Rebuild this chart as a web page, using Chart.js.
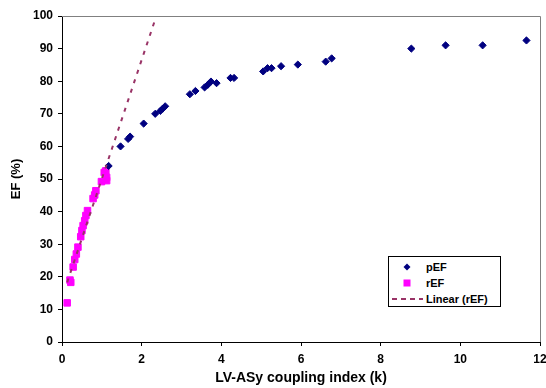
<!DOCTYPE html>
<html lang="en">
<head>
    <meta charset="UTF-8">
    <title>EF vs LV-ASy coupling index</title>
    <style>
        * {
            margin: 0;
            padding: 0;
            box-sizing: border-box;
        }

        body {
            background-color: #fff;
            font-family: Arial, "Liberation Sans", sans-serif;
        }

        .wrap {
            position: relative;
            width: 546px;
            height: 388px;
        }

        .legend {
            position: absolute;
            left: 388px;
            top: 256px;
            width: 113px;
            height: 51px;
            border: 1px solid #000;
            background-color: #fff;
            font-size: 11px;
            font-weight: bold;
            color: #000;
        }

        .legend .row {
            position: absolute;
            left: 0;
            height: 14px;
            line-height: 14px;
        }

        .legend .label {
            position: absolute;
            left: 37px;
            white-space: nowrap;
        }

        .legend svg {
            position: absolute;
            left: 0;
            top: 0;
        }
    </style>
</head>
<body>
    <div class="wrap">
        <canvas id="efChart" width="546" height="388"></canvas>
        <div class="legend">
            <div class="row" style="top: 3px;">
                <svg width="36" height="14"><path d="M18 3.5 L21.5 7 L18 10.5 L14.5 7 Z" fill="#000080"/></svg>
                <span class="label">pEF</span>
            </div>
            <div class="row" style="top: 19px;">
                <svg width="36" height="14"><rect x="14.5" y="3.5" width="7" height="7" fill="#ff00ff"/></svg>
                <span class="label">rEF</span>
            </div>
            <div class="row" style="top: 35px;">
                <svg width="36" height="14"><line x1="3" y1="7" x2="34" y2="7" stroke="#993366" stroke-width="2" stroke-dasharray="5,4"/></svg>
                <span class="label">Linear (rEF)</span>
            </div>
        </div>
    </div>

    <script src="https://cdn.jsdelivr.net/npm/chart.js"></script>
    <script>
        // values
        const pefK = [1.17, 1.47, 1.66, 1.71, 2.05, 2.34, 2.47, 2.53, 2.59, 3.21, 3.35, 3.58, 3.66, 3.74,
                      3.88, 4.23, 4.32, 5.05, 5.16, 5.26, 5.50, 5.92, 6.62, 6.77, 8.77, 9.63, 10.56, 11.66];
        const pefEF = [54, 60, 62.3, 63, 67, 70, 70.9, 71.6, 72.3, 76, 77, 78.1, 78.9, 79.9,
                       79.4, 81, 81, 83, 84, 84, 84.6, 85.1, 86, 87, 90, 91, 91, 92.5];

        const refK = [0.13, 0.20, 0.22, 0.28, 0.32, 0.36, 0.40, 0.47, 0.50, 0.53, 0.57, 0.60, 0.64,
                      0.78, 0.82, 0.85, 0.99, 1.12, 1.12, 1.06, 1.10];
        const refEF = [12, 19, 18.3, 23, 25.3, 27, 29.1, 32.3, 34.2, 35.7, 37.2, 38.8, 40.3,
                       44, 45.1, 46.4, 49.2, 49.5, 50.5, 52, 52.5];

        // Excel trendline runs forward to about k = 2.33
        const trendEndK = 2.33;

        const xTicks = [0, 2, 4, 6, 8, 10, 12];
        const yTicks = [0, 10, 20, 30, 40, 50, 60, 70, 80, 90, 100];

        function toPoints(xs, ys) {
            return xs.map((x, i) => ({ x: x, y: ys[i] }));
        }

        // least squares fit on rEF
        function linearFit(xs, ys) {
            const n = xs.length;
            const mx = xs.reduce((a, b) => a + b, 0) / n;
            const my = ys.reduce((a, b) => a + b, 0) / n;
            let sxy = 0, sxx = 0;
            for (let i = 0; i < n; i++) {
                sxy += (xs[i] - mx) * (ys[i] - my);
                sxx += (xs[i] - mx) * (xs[i] - mx);
            }
            const slope = sxy / sxx;
            return { slope: slope, intercept: my - slope * mx };
        }

        const fit = linearFit(refK, refEF);
        const trendStart = Math.min(...refK);
        const trendPoints = [trendStart, trendEndK].map(k => ({ x: k, y: fit.intercept + fit.slope * k }));

        // gray top/right edge of the plot area
        const plotFrame = {
            id: 'plotFrame',
            beforeDatasetsDraw(chart) {
                const { ctx, chartArea } = chart;
                ctx.save();
                ctx.strokeStyle = '#808080';
                ctx.lineWidth = 1;
                ctx.beginPath();
                ctx.moveTo(chartArea.left, chartArea.top + 0.5);
                ctx.lineTo(chartArea.right + 0.5, chartArea.top + 0.5);
                ctx.lineTo(chartArea.right + 0.5, chartArea.bottom);
                ctx.stroke();
                ctx.restore();
            }
        };

        const tickFont = { family: 'Arial, "Liberation Sans", sans-serif', size: 12, weight: 'bold' };
        const xTitleFont = { family: 'Arial, "Liberation Sans", sans-serif', size: 14, weight: 'bold' };
        const yTitleFont = { family: 'Arial, "Liberation Sans", sans-serif', size: 13, weight: 'bold' };

        new Chart(document.getElementById('efChart'), {
            type: 'scatter',
            data: {
                datasets: [
                    {
                        label: 'Linear (rEF)',
                        type: 'line',
                        data: trendPoints,
                        borderColor: '#993366',
                        borderWidth: 2,
                        borderDash: [4, 6],
                        pointRadius: 0,
                        fill: false,
                        order: 0
                    },
                    {
                        label: 'pEF',
                        data: toPoints(pefK, pefEF),
                        pointStyle: 'rectRot',
                        pointRadius: 3.6,
                        backgroundColor: '#000080',
                        borderColor: '#000080',
                        borderWidth: 1,
                        order: 1
                    },
                    {
                        label: 'rEF',
                        data: toPoints(refK, refEF),
                        pointStyle: 'rect',
                        pointRadius: 4.6,
                        backgroundColor: '#ff00ff',
                        borderColor: '#ff00ff',
                        borderWidth: 1,
                        order: 2
                    }
                ]
            },
            options: {
                responsive: false,
                animation: false,
                devicePixelRatio: 1,
                layout: {
                    padding: { top: 16, right: 6, bottom: 0, left: 0 }
                },
                plugins: {
                    legend: { display: false },
                    tooltip: { enabled: false }
                },
                scales: {
                    x: {
                        type: 'linear',
                        min: 0,
                        max: 12,
                        afterFit(scale) {
                            scale.height = 46;
                            scale.paddingLeft = 0;
                            scale.paddingRight = 0;
                        },
                        afterBuildTicks(scale) { scale.ticks = xTicks.map(v => ({ value: v })); },
                        ticks: { font: tickFont, color: '#000', padding: 6, maxRotation: 0 },
                        grid: { drawOnChartArea: false, drawTicks: true, tickLength: 4, color: '#000' },
                        border: { display: true, color: '#000', width: 1 },
                        title: {
                            display: true,
                            text: 'LV-ASy coupling index (k)',
                            font: xTitleFont,
                            color: '#000',
                            padding: { top: 0, bottom: 1 }
                        }
                    },
                    y: {
                        type: 'linear',
                        min: 0,
                        max: 100,
                        afterFit(scale) { scale.width = 62; },
                        afterBuildTicks(scale) { scale.ticks = yTicks.map(v => ({ value: v })); },
                        ticks: { font: tickFont, color: '#000', padding: 5 },
                        grid: { drawOnChartArea: false, drawTicks: true, tickLength: 4, color: '#000' },
                        border: { display: true, color: '#000', width: 1 },
                        title: {
                            display: true,
                            text: 'EF (%)',
                            font: yTitleFont,
                            color: '#000',
                            padding: { top: 9, bottom: 0 }
                        }
                    }
                }
            },
            plugins: [plotFrame]
        });
    </script>
</body>
</html>
